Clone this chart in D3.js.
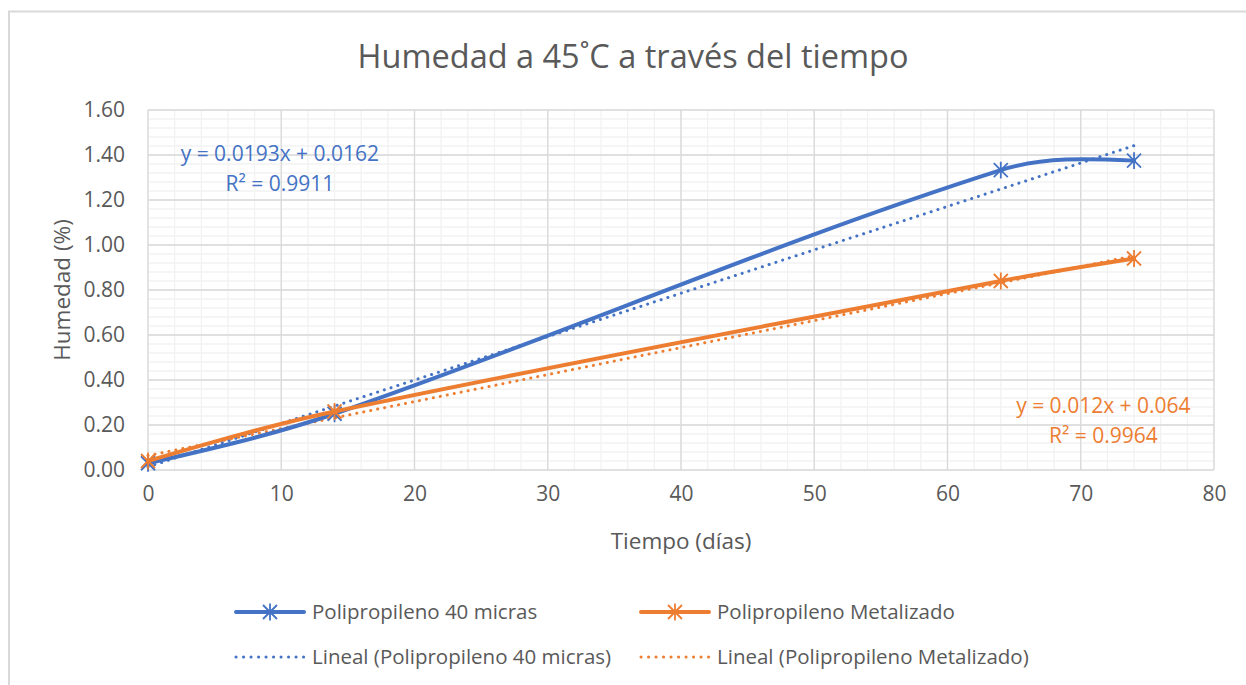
<!DOCTYPE html>
<html>
<head>
<meta charset="utf-8">
<script src="https://cdn.jsdelivr.net/npm/d3@7"></script>
<style>
  body { margin: 0; background: #fff; }
  text { font-family: "Open Sans", sans-serif; fill: #595959; }
</style>
</head>
<body>
<div id="chart"></div>
<script>
  // data
  var days = [0, 14, 64, 74],
      pp40 = [0.03, 0.25, 1.333, 1.375],
      ppMet = [0.04, 0.26, 0.84, 0.94],
      xTicks = [0, 10, 20, 30, 40, 50, 60, 70, 80],
      yTicks = [0, 0.2, 0.4, 0.6, 0.8, 1.0, 1.2, 1.4, 1.6],
      eqLabels = ["y = 0.0193x + 0.0162", "y = 0.012x + 0.064"],
      r2Labels = ["R\u00b2 = 0.9911", "R\u00b2 = 0.9964"],
      seriesNames = ["Polipropileno 40 micras", "Polipropileno Metalizado"],
      colors = ["#4472C4", "#ED7D31"];

  var width = 1246, height = 685,
      margin = { top: 110, right: 32, bottom: 215, left: 148 },
      plotW = width - margin.left - margin.right,
      plotH = height - margin.top - margin.bottom;

  const svg = d3.select("#chart").append("svg")
      .attr("width", width)
      .attr("height", height);

  // chart frame (only left/top edges show inside the window)
  svg.append("rect")
      .attr("x", 9).attr("y", 11.5)
      .attr("width", 1300).attr("height", 800)
      .attr("fill", "none").attr("stroke", "#d9d9d9").attr("stroke-width", 2);

  var x = d3.scaleLinear().domain([0, 80]).range([0, plotW]);
  var y = d3.scaleLinear().domain([0, 1.6]).range([plotH, 0]);

  var g = svg.append("g")
      .attr("transform", "translate(" + margin.left + "," + margin.top + ")");

  // minor grid
  g.selectAll(".vminor").data(d3.range(0, 81, 2)).enter().append("line")
      .attr("x1", d => x(d)).attr("x2", d => x(d))
      .attr("y1", 0).attr("y2", plotH)
      .attr("stroke", "#f2f2f2").attr("stroke-width", 1.3);
  g.selectAll(".hminor").data(d3.range(0, 41).map(d => d * 0.04)).enter().append("line")
      .attr("x1", 0).attr("x2", plotW)
      .attr("y1", d => y(d)).attr("y2", d => y(d))
      .attr("stroke", "#f2f2f2").attr("stroke-width", 1.3);

  // major grid
  g.selectAll(".vmajor").data(xTicks).enter().append("line")
      .attr("x1", d => x(d)).attr("x2", d => x(d))
      .attr("y1", 0).attr("y2", plotH)
      .attr("stroke", "#d9d9d9").attr("stroke-width", 1.3);
  g.selectAll(".hmajor").data(yTicks).enter().append("line")
      .attr("x1", 0).attr("x2", plotW)
      .attr("y1", d => y(d)).attr("y2", d => y(d))
      .attr("stroke", "#d9d9d9").attr("stroke-width", 1.3);

  // axes
  var xAxis = g.append("g")
      .attr("transform", "translate(0," + plotH + ")")
      .call(d3.axisBottom(x).tickValues(xTicks).tickSize(0).tickPadding(16));
  var yAxis = g.append("g")
      .call(d3.axisLeft(y).tickValues(yTicks).tickSize(0).tickPadding(23).tickFormat(d3.format(".2f")));
  [xAxis, yAxis].forEach(function(a) {
    a.select(".domain").remove();
    a.selectAll("text").style("font-size", "21px").attr("fill", "#595959")
      .style("font-family", "'Open Sans', sans-serif");
  });

  // trendlines (least squares)
  function fit(xs, ys) {
    var mx = d3.mean(xs), my = d3.mean(ys), sxy = 0, sxx = 0;
    xs.forEach(function(v, i) { sxy += (v - mx) * (ys[i] - my); sxx += (v - mx) * (v - mx); });
    var m = sxy / sxx;
    return { m: m, b: my - m * mx };
  }
  var allSeries = [pp40, ppMet];
  allSeries.forEach(function(vals, i) {
    var f = fit(days, vals);
    var ends = [d3.min(days), d3.max(days)];
    g.append("line")
        .attr("x1", x(ends[0])).attr("y1", y(f.m * ends[0] + f.b))
        .attr("x2", x(ends[1])).attr("y2", y(f.m * ends[1] + f.b))
        .attr("stroke", colors[i]).attr("stroke-width", 3)
        .attr("stroke-dasharray", "0.1 7").attr("stroke-linecap", "round");
  });

  // excel-like smoothing: bezier with chord-scaled tangents
  function smoothPath(pts) {
    var p = d3.path(), n = pts.length;
    var dist = (a, b) => Math.hypot(b[0] - a[0], b[1] - a[1]);
    p.moveTo(pts[0][0], pts[0][1]);
    for (let i = 0; i < n - 1; i++) {
      let a = pts[i], b = pts[i + 1], seg = dist(a, b), c1 = null, c2 = null;
      if (i > 0) {
        let f1 = seg / (dist(pts[i - 1], a) + seg) / 3;
        c1 = [a[0] + (b[0] - pts[i - 1][0]) * f1, a[1] + (b[1] - pts[i - 1][1]) * f1];
      }
      if (i < n - 2) {
        let f2 = seg / (dist(b, pts[i + 2]) + seg) / 3;
        c2 = [b[0] - (pts[i + 2][0] - a[0]) * f2, b[1] - (pts[i + 2][1] - a[1]) * f2];
      }
      if (!c1) c1 = [(a[0] + c2[0]) / 2, (a[1] + c2[1]) / 2];
      if (!c2) c2 = [(b[0] + c1[0]) / 2, (b[1] + c1[1]) / 2];
      p.bezierCurveTo(c1[0], c1[1], c2[0], c2[1], b[0], b[1]);
    }
    return p.toString();
  }

  function star(sel, cx, cy, col) {
    var s = 7;
    var path = "M" + (cx - s) + "," + (cy - s) + "L" + (cx + s) + "," + (cy + s) +
               "M" + (cx - s) + "," + (cy + s) + "L" + (cx + s) + "," + (cy - s) +
               "M" + cx + "," + (cy - s * 1.2) + "L" + cx + "," + (cy + s * 1.2);
    sel.append("path").attr("d", path).attr("stroke", col).attr("stroke-width", 1.8).attr("fill", "none");
  }

  allSeries.forEach(function(vals, i) {
    var pts = days.map((d, j) => [x(d), y(vals[j])]);
    g.append("path")
        .attr("d", smoothPath(pts))
        .attr("fill", "none").attr("stroke", colors[i]).attr("stroke-width", 4)
        .attr("stroke-linecap", "round");
    pts.forEach(function(p) { star(g, p[0], p[1], colors[i]); });
  });

  // trendline labels
  var fs = "21px";
  g.append("text").attr("x", x(9.9)).attr("y", y(1.375)).attr("text-anchor", "middle")
      .style("font-size", fs).style("fill", colors[0]).text(eqLabels[0]);
  g.append("text").attr("x", x(9.9)).attr("y", y(1.24)).attr("text-anchor", "middle")
      .style("font-size", fs).style("fill", colors[0]).text(r2Labels[0]);
  g.append("text").attr("x", x(71.7)).attr("y", y(0.255)).attr("text-anchor", "middle")
      .style("font-size", fs).style("fill", colors[1]).text(eqLabels[1]);
  g.append("text").attr("x", x(71.7)).attr("y", y(0.12)).attr("text-anchor", "middle")
      .style("font-size", fs).style("fill", colors[1]).text(r2Labels[1]);

  // titles
  svg.append("text").attr("x", 633).attr("y", 68).attr("text-anchor", "middle")
      .style("font-size", "32.5px").text("Humedad a 45\u02daC a trav\u00e9s del tiempo");
  svg.append("text").attr("x", 681).attr("y", 549).attr("text-anchor", "middle")
      .style("font-size", "22.5px").text("Tiempo (d\u00edas)");
  svg.append("text").attr("transform", "translate(70,290) rotate(-90)").attr("text-anchor", "middle")
      .style("font-size", "22.5px").text("Humedad (%)");

  // legend
  var legendItems = [
    { name: seriesNames[0], col: colors[0], dotted: false, lx: 236, ly: 612 },
    { name: seriesNames[1], col: colors[1], dotted: false, lx: 641, ly: 612 },
    { name: "Lineal (" + seriesNames[0] + ")", col: colors[0], dotted: true, lx: 236, ly: 657 },
    { name: "Lineal (" + seriesNames[1] + ")", col: colors[1], dotted: true, lx: 641, ly: 657 }
  ];
  var lg = svg.selectAll(".legend").data(legendItems).enter().append("g").attr("class", "legend");
  lg.append("line")
      .attr("x1", d => d.lx).attr("x2", d => d.lx + 68)
      .attr("y1", d => d.ly).attr("y2", d => d.ly)
      .attr("stroke", d => d.col)
      .attr("stroke-width", d => d.dotted ? 3 : 4)
      .attr("stroke-dasharray", d => d.dotted ? "0.1 7.4" : null)
      .attr("stroke-linecap", "round");
  lg.each(function(d) { if (!d.dotted) star(d3.select(this), d.lx + 34, d.ly, d.col); });
  lg.append("text")
      .attr("x", d => d.lx + 76).attr("y", d => d.ly + 7)
      .style("font-size", "20.5px").text(d => d.name);
</script>
</body>
</html>
